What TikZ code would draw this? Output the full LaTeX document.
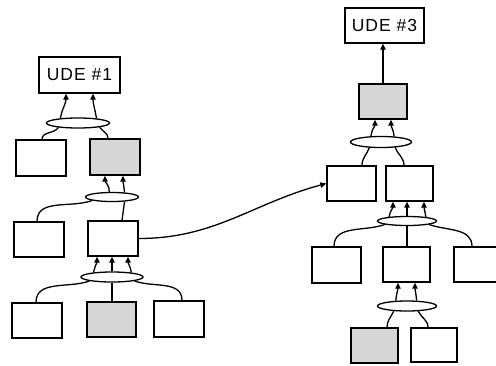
\documentclass[tikz,border=0pt]{standalone}
\usepackage{fontspec}
\newfontfamily\udefont[LetterSpace=6]{Liberation Sans}
\usetikzlibrary{shapes.geometric,arrows.meta}
\tikzset{
  box/.style={draw, line width=1.3pt, rectangle, inner sep=0pt},
  shaded/.style={box, fill=gray!32},
  oval/.style={draw, ellipse, line width=1.3pt, inner sep=0pt},
  link/.style={line width=1.3pt},
  arr/.style={line width=1.3pt, -{Triangle[length=6pt,width=5.5pt]}},
  udetext/.style={font=\udefont\fontsize{17.5}{20}\selectfont},
}
\begin{document}
\begin{tikzpicture}[x=1pt,y=1pt]
\useasboundingbox (0,0) rectangle (496,-365);
\clip (0,0) rectangle (496,-365);
% ---------- left tree ----------
\node[box, udetext, minimum width=81pt, minimum height=36pt] (u1) at (79.5,-75) {UDE \#1};
\node[oval, minimum width=63pt, minimum height=10pt] (e1) at (78,-123) {};
\node[box, minimum width=50pt, minimum height=36pt] (b1) at (41,-158) {};
\node[shaded, minimum width=50pt, minimum height=36pt] (s1) at (115,-157) {};
\node[oval, minimum width=53pt, minimum height=9pt] (e2) at (112,-197) {};
\node[box, minimum width=50pt, minimum height=35pt] (b2) at (39,-239.5) {};
\node[box, minimum width=50pt, minimum height=35pt] (m1) at (113,-238.5) {};
\node[oval, minimum width=62pt, minimum height=10pt] (e3) at (112,-277) {};
\node[box, minimum width=50pt, minimum height=35pt] (b3) at (37,-320.5) {};
\node[shaded, minimum width=49pt, minimum height=35pt] (s2) at (111.5,-319.5) {};
\node[box, minimum width=50pt, minimum height=36pt] (r3) at (179,-319) {};
\draw[arr] (e1.165) to[out=80,in=-90] ([xshift=-13.5pt]u1.south);
\draw[arr] (e1.14) to[out=100,in=-90] ([xshift=13.5pt]u1.south);
\draw[link] (e1.193) to[out=-125,in=90] ([xshift=1pt]b1.north);
\draw[link] (e1.-11) to[out=-55,in=90] ([xshift=-7pt]s1.north);
\draw[arr] (e2.118) to[out=85,in=-90] ([xshift=-10pt]s1.south);
\draw[arr] (e2.20) to[out=95,in=-90] ([xshift=8pt]s1.south);
\draw[link] (e2.190) to[out=-160,in=90] ([xshift=-2pt]b2.north);
\draw[link] (e2.-20) -- ([xshift=9pt]m1.north);
\draw[arr] (e3.166) to[out=80,in=-90] ([xshift=-16pt]m1.south);
\draw[arr] (e3.north) -- (e3.north |- m1.south);
\draw[arr] (e3.13) to[out=100,in=-90] ([xshift=15pt]m1.south);
\draw[link] (e3.190) to[out=-160,in=90] ([xshift=-1pt]b3.north);
\draw[link] (e3.south) -- (e3.south |- s2.north);
\draw[link] (e3.-10) to[out=-20,in=90] ([xshift=3pt]r3.north);
% ---------- right tree ----------
\node[box, udetext, minimum width=79pt, minimum height=35pt] (u3) at (384.5,-25.5) {UDE \#3};
\node[shaded, minimum width=48pt, minimum height=35pt] (s3) at (383,-101.5) {};
\node[oval, minimum width=61pt, minimum height=11pt] (e4) at (381,-142) {};
\node[box, minimum width=49pt, minimum height=35pt] (b4) at (351.5,-183.5) {};
\node[box, minimum width=47pt, minimum height=35pt] (c4) at (409.5,-183.5) {};
\node[oval, minimum width=59pt, minimum height=9pt] (e5) at (407,-221) {};
\node[box, minimum width=49pt, minimum height=36pt] (b5) at (336.5,-265) {};
\node[box, minimum width=47pt, minimum height=35pt] (m5) at (406.5,-264.5) {};
\node[box, minimum width=60pt, minimum height=35pt] (r5) at (484,-264.5) {};
\node[oval, minimum width=59pt, minimum height=10pt] (e6) at (407,-306) {};
\node[shaded, minimum width=47pt, minimum height=35pt] (s6) at (374.5,-345.5) {};
\node[box, minimum width=46pt, minimum height=34pt] (r6) at (434,-345) {};
\draw[arr] (s3.north) -- (s3.north |- u3.south);
\draw[arr] (e4.150) to[out=85,in=-90] ([xshift=-8pt]s3.south);
\draw[arr] (e4.23) to[out=95,in=-90] ([xshift=8pt]s3.south);
\draw[link] (e4.206) to[out=-110,in=90] ([xshift=10.5pt]b4.north);
\draw[link] (e4.-21) to[out=-70,in=90] ([xshift=-5.5pt]c4.north);
\draw[arr] (e5.167) to[out=80,in=-90] ([xshift=-16.5pt]c4.south);
\draw[arr] (e5.north) -- (e5.north |- c4.south);
\draw[arr] (e5.12) to[out=100,in=-90] ([xshift=14.5pt]c4.south);
\draw[link] (e5.189) to[out=-160,in=90] ([xshift=-2.5pt]b5.north);
\draw[link] (e5.south) -- (e5.south |- m5.north);
\draw[link] (e5.-9) to[out=-20,in=90] ([xshift=-12pt]r5.north);
\draw[arr] (e6.155) to[out=85,in=-90] ([xshift=-8.5pt]m5.south);
\draw[arr] (e6.29) to[out=95,in=-90] ([xshift=8.5pt]m5.south);
\draw[link] (e6.201) to[out=-115,in=90] ([xshift=12.5pt]s6.north);
\draw[link] (e6.-25) to[out=-65,in=90] ([xshift=-6pt]r6.north);
% ---------- cross link ----------
\draw[arr] (m1.east) to[out=0,in=195] (b4.west);
\end{tikzpicture}
\end{document}
